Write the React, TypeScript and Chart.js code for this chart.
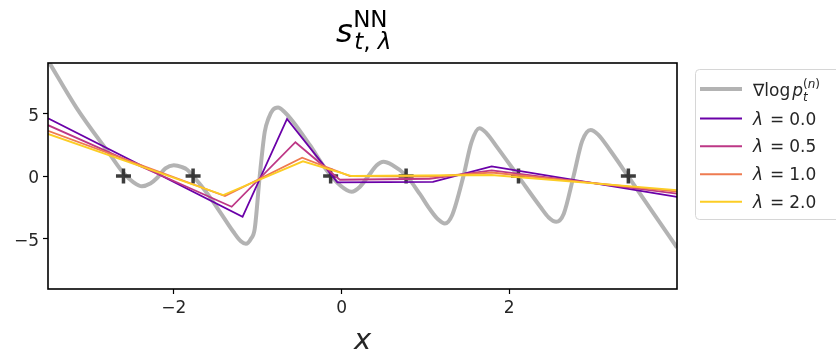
import React, { useEffect, useRef } from "react";
import { Chart, registerables } from "chart.js";

Chart.register(...registerables);

// ---- data ----
const X_TICKS = [-2, 0, 2];
const Y_TICKS = [-5, 0, 5];

const scoreX = [
  -3.5, -3.16, -2.76, -2.6, -2.48, -2.38, -2.28, -2.2, -2.1, -2.0, -1.9, -1.84, -1.77,
  -1.6, -1.45, -1.29, -1.2, -1.14, -1.08, -1.035, -0.976, -0.916, -0.87, -0.82, -0.757, -0.68,
  -0.578, -0.379, -0.18, -0.02, 0.12, 0.22, 0.32, 0.42, 0.5, 0.6, 0.776, 0.935, 1.054,
  1.15, 1.233, 1.32, 1.452, 1.55, 1.643, 1.73, 1.85, 2.11, 2.37, 2.47, 2.56, 2.65, 2.765,
  2.87, 2.97, 3.06, 3.2, 3.42, 3.72, 4.0,
];
const scoreY = [
  9.2, 5.43, 1.7, 0.24, -0.5, -0.82, -0.6, -0.16, 0.6, 0.85, 0.7, 0.5, 0.0,
  -1.4, -2.85, -4.44, -5.2, -5.4, -5.0, -4.2, -0.05, 3.5, 4.6, 5.25, 5.45, 5.1,
  4.33, 2.47, 0.48, -0.72, -1.25, -0.85, 0.0, 0.85, 1.14, 0.9, 0.0, -1.45, -2.65,
  -3.45, -3.78, -3.1, -0.05, 2.7, 3.8, 3.4, 2.34, -0.05, -2.45, -3.3, -3.65, -3.0, -0.05,
  2.8, 3.67, 3.3, 2.07, -0.05, -2.98, -5.7,
];

const lam00X = [-3.5, -1.18, -0.65, -0.05, 1.09, 1.79, 4.0];
const lam00Y = [4.6, -3.25, 4.55, -0.5, -0.47, 0.76, -1.67];
const lam05X = [-3.5, -1.31, -0.55, -0.02, 1.05, 1.79, 4.0];
const lam05Y = [4.05, -2.45, 2.69, -0.3, -0.22, 0.45, -1.4];
const lam10X = [-3.5, -1.39, -0.47, 0.1, 1.05, 1.79, 4.0];
const lam10Y = [3.6, -1.6, 1.46, 0.0, -0.05, 0.28, -1.25];
const lam20X = [-3.5, -1.41, -0.46, 0.12, 1.79, 4.0];
const lam20Y = [3.35, -1.52, 1.17, 0.0, 0.08, -1.12];

const sampleX = [-2.6, -1.77, -0.13, 0.77, 2.11, 3.42];
const sampleY = [0, 0, 0, 0, 0, 0];

const LAMBDA_LABELS = ["0.0", "0.5", "1.0", "2.0"];
const LAMBDA_COLORS = ["#6a00a8", "#bd3786", "#ee7b51", "#fccd25"];
const SCORE_COLOR = "rgba(128,128,128,0.6)";

const zip = (xs: number[], ys: number[]) => xs.map((x, i) => ({ x, y: ys[i] }));

const FONT = "'DejaVu Sans', 'Liberation Sans', sans-serif";
const TEXT_COLOR = "#262626";

const minusFmt = (v: number) => (v < 0 ? "\u2212" + Math.abs(v) : String(v));

const decorPlugin = {
  id: "decor",
  afterDatasetsDraw(chart: any) {
    const ctx: CanvasRenderingContext2D = chart.ctx;
    const a = chart.chartArea;
    ctx.save();
    ctx.strokeStyle = "#000";
    ctx.lineWidth = 1.6;
    ctx.strokeRect(a.left, a.top, a.right - a.left, a.bottom - a.top);
    ctx.restore();
  },
  afterDraw(chart: any) {
    const ctx: CanvasRenderingContext2D = chart.ctx;
    const a = chart.chartArea;
    const cx = (a.left + a.right) / 2;
    ctx.save();
    ctx.fillStyle = "#000";
    ctx.textBaseline = "alphabetic";
    ctx.textAlign = "left";

    // title s^{NN}_{t,λ}
    ctx.font = `italic 32px ${FONT}`;
    const sW = ctx.measureText("s").width;
    ctx.font = `23px ${FONT}`;
    const nnW = ctx.measureText("NN").width;
    const startX = cx - (sW + nnW) / 2 - 1;
    ctx.font = `italic 32px ${FONT}`;
    ctx.fillText("s", startX, 42);
    const subX = startX + sW + 0.5;
    ctx.font = `23px ${FONT}`;
    ctx.fillText("NN", subX, 27);
    ctx.font = `italic 23px ${FONT}`;
    ctx.fillText("t", subX + 1, 49);
    let px = subX + 1 + ctx.measureText("t").width;
    ctx.font = `23px ${FONT}`;
    ctx.fillText(",", px, 49);
    px += ctx.measureText(", ").width;
    ctx.font = `italic 23px ${FONT}`;
    ctx.fillText("\u03bb", px, 49);

    // x axis label
    ctx.fillStyle = TEXT_COLOR;
    ctx.font = `italic 29px ${FONT}`;
    ctx.textAlign = "center";
    ctx.fillText("x", cx, 349);

    // legend
    ctx.textAlign = "left";
    const bx = 695, by = 69, bw = 160, bh = 150;
    ctx.beginPath();
    (ctx as any).roundRect(bx + 0.5, by + 0.5, bw, bh, 4);
    ctx.fillStyle = "rgba(255,255,255,0.85)";
    ctx.fill();
    ctx.strokeStyle = "#d6d6d6";
    ctx.lineWidth = 1;
    ctx.stroke();

    const lx0 = 700, lx1 = 742, tx = 753;
    const rows = [89, 118.5, 146.3, 174.2, 201.7];
    ctx.strokeStyle = SCORE_COLOR;
    ctx.lineWidth = 4;
    ctx.beginPath();
    ctx.moveTo(lx0, rows[0]);
    ctx.lineTo(lx1, rows[0]);
    ctx.stroke();
    ctx.fillStyle = TEXT_COLOR;
    ctx.font = `17px ${FONT}`;
    ctx.fillText("\u2207log", tx, rows[0] + 7);
    let qx = tx + ctx.measureText("\u2207log").width + 2;
    ctx.font = `italic 17px ${FONT}`;
    ctx.fillText("p", qx, rows[0] + 7);
    qx += ctx.measureText("p").width;
    ctx.font = `12px ${FONT}`;
    ctx.fillText("(", qx, rows[0] - 1);
    let rx = qx + ctx.measureText("(").width;
    ctx.font = `italic 12px ${FONT}`;
    ctx.fillText("n", rx, rows[0] - 1);
    rx += ctx.measureText("n").width;
    ctx.font = `12px ${FONT}`;
    ctx.fillText(")", rx, rows[0] - 1);
    ctx.font = `italic 12px ${FONT}`;
    ctx.fillText("t", qx, rows[0] + 12);

    for (let i = 0; i < LAMBDA_LABELS.length; i++) {
      const y = rows[i + 1];
      ctx.strokeStyle = LAMBDA_COLORS[i];
      ctx.lineWidth = 2;
      ctx.beginPath();
      ctx.moveTo(lx0, y);
      ctx.lineTo(lx1, y);
      ctx.stroke();
      ctx.fillStyle = TEXT_COLOR;
      ctx.font = `italic 17px ${FONT}`;
      ctx.fillText("\u03bb", tx, y + 6);
      let ex = tx + ctx.measureText("\u03bb").width + 7;
      ctx.font = `17px ${FONT}`;
      ctx.fillText("=", ex, y + 6);
      ex += ctx.measureText("=").width + 5;
      ctx.fillText(LAMBDA_LABELS[i], ex, y + 6);
    }
    ctx.restore();
  },
};

export default function App() {
  const ref = useRef<HTMLCanvasElement>(null);

  useEffect(() => {
    document.body.style.margin = "0";
    const canvas = ref.current;
    if (!canvas) return;
    const lamX = [lam00X, lam05X, lam10X, lam20X];
    const lamY = [lam00Y, lam05Y, lam10Y, lam20Y];
    const lamSets = LAMBDA_LABELS.map((lab, i) => ({
      type: "line" as const,
      label: "\u03bb = " + lab,
      data: zip(lamX[i], lamY[i]),
      borderColor: LAMBDA_COLORS[i],
      backgroundColor: LAMBDA_COLORS[i],
      borderWidth: 1.8,
      pointRadius: 0,
      tension: 0,
      fill: false,
      order: 4 - i,
    }));
    const chart = new Chart(canvas, {
      type: "line",
      data: {
        datasets: [
          {
            label: "\u2207log p_t^(n)",
            data: zip(scoreX, scoreY),
            borderColor: SCORE_COLOR,
            backgroundColor: SCORE_COLOR,
            borderWidth: 4,
            pointRadius: 0,
            cubicInterpolationMode: "monotone",
            fill: false,
            order: 10,
          },
          {
            label: "samples",
            data: zip(sampleX, sampleY),
            showLine: false,
            pointStyle: "cross",
            pointRadius: 7.5,
            pointBorderWidth: 3.5,
            pointBorderColor: "rgba(40,40,40,0.9)",
            pointBackgroundColor: "rgba(40,40,40,0.9)",
            order: 6,
          } as any,
          ...lamSets,
        ],
      },
      options: {
        responsive: false,
        animation: false,
        devicePixelRatio: 1,
        layout: { padding: { top: 63, right: 159, left: 0, bottom: 0 } },
        plugins: {
          legend: { display: false },
          title: { display: false },
          tooltip: { enabled: false },
        },
        scales: {
          x: {
            type: "linear",
            min: -3.5,
            max: 4.0,
            afterBuildTicks: (s: any) => {
              s.ticks = X_TICKS.map((v) => ({ value: v }));
            },
            afterFit: (s: any) => {
              s.height = 65;
            },
            grid: {
              drawOnChartArea: false,
              drawTicks: true,
              tickLength: 5,
              tickWidth: 1.2,
              tickColor: "#000",
            },
            border: { display: false },
            ticks: {
              padding: 4,
              color: TEXT_COLOR,
              font: { family: FONT, size: 17 },
              maxRotation: 0,
              callback: (v: any) => minusFmt(Number(v)),
            },
          },
          y: {
            type: "linear",
            min: -9,
            max: 9,
            afterBuildTicks: (s: any) => {
              s.ticks = Y_TICKS.map((v) => ({ value: v }));
            },
            afterFit: (s: any) => {
              s.width = 48;
            },
            grid: {
              drawOnChartArea: false,
              drawTicks: true,
              tickLength: 5,
              tickWidth: 1.2,
              tickColor: "#000",
            },
            border: { display: false },
            ticks: {
              padding: 4,
              labelOffset: 3,
              color: TEXT_COLOR,
              font: { family: FONT, size: 17 },
              callback: (v: any) => minusFmt(Number(v)),
            },
          },
        },
      },
      plugins: [decorPlugin],
    });
    return () => chart.destroy();
  }, []);

  return (
    <div style={{ position: "fixed", left: 0, top: 0, width: 836, height: 354, background: "#fff" }}>
      <canvas ref={ref} width={836} height={354} />
    </div>
  );
}
